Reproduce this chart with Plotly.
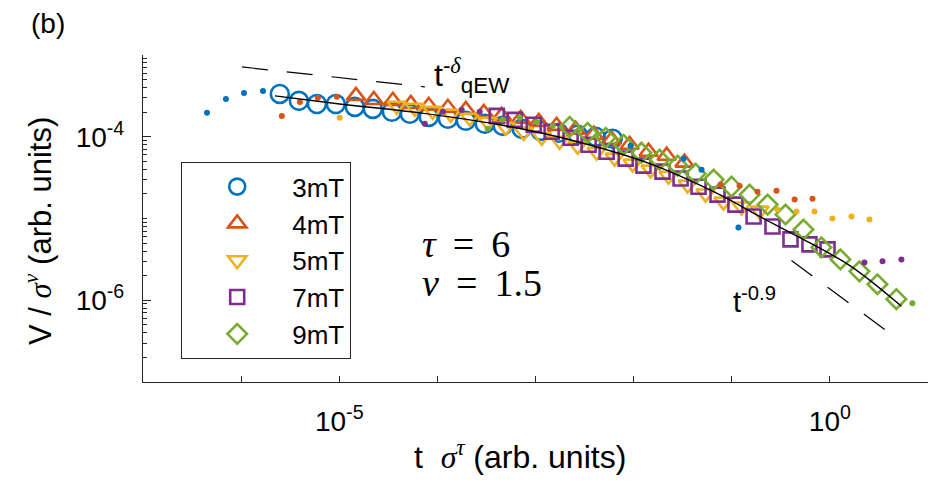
import plotly.graph_objects as go

# ---------------- data ----------------
series_names = ["3mT", "4mT", "5mT", "7mT", "9mT"]
series_colors = ["#0072BD", "#D95319", "#EDB120", "#7E2F8E", "#77AC30"]
series_symbols = ["circle-open", "triangle-up-open", "triangle-down-open", "square-open", "diamond-open"]

# binned data (open markers): t*sigma^tau, V/sigma^nu
x_3mT = [2.48e-6, 3.88e-6, 5.92e-6, 9.23e-6, 1.44e-5, 2.20e-5, 3.44e-5, 5.24e-5, 8.17e-5, 1.28e-4,
         1.95e-4, 3.04e-4, 4.63e-4, 7.23e-4, 1.13e-3, 1.72e-3, 2.69e-3, 4.10e-3, 6.11e-3]
y_3mT = [3.34e-4, 2.75e-4, 2.52e-4, 2.52e-4, 2.32e-4, 2.19e-4, 2.02e-4, 1.91e-4, 1.75e-4, 1.66e-4,
         1.57e-4, 1.44e-4, 1.36e-4, 1.25e-4, 1.18e-4, 1.12e-4, 1.06e-4, 1.00e-4, 9.46e-5]

x_4mT = [1.48e-5, 2.25e-5, 3.52e-5, 5.36e-5, 8.17e-5, 1.28e-4, 1.95e-4, 2.97e-4, 4.53e-4, 7.06e-4,
         1.08e-3, 1.64e-3, 2.56e-3, 3.92e-3, 5.97e-3, 9.10e-3, 1.42e-2, 2.17e-2, 3.30e-2]
y_4mT = [3.16e-4, 2.82e-4, 2.75e-4, 2.52e-4, 2.39e-4, 2.26e-4, 2.13e-4, 1.96e-4, 1.80e-4, 1.66e-4,
         1.52e-4, 1.36e-4, 1.22e-4, 1.06e-4, 9.18e-5, 7.98e-5, 6.56e-5, 5.86e-5, 4.82e-5]

x_5mT = [3.86e-5, 5.89e-5, 8.97e-5, 1.37e-4, 2.14e-4, 3.26e-4, 4.98e-4, 7.59e-4, 1.16e-3, 1.76e-3,
         2.69e-3, 4.20e-3, 6.41e-3, 9.77e-3, 1.49e-2, 2.27e-2, 3.55e-2, 5.41e-2, 8.24e-2, 0.126, 0.192]
y_5mT = [2.39e-4, 2.26e-4, 2.07e-4, 1.91e-4, 1.71e-4, 1.52e-4, 1.32e-4, 1.15e-4, 1.00e-4, 8.93e-5,
         7.76e-5, 6.56e-5, 5.55e-5, 4.69e-5, 3.96e-5, 3.34e-5, 2.60e-5, 2.02e-5, 1.61e-5, 1.40e-5, 1.25e-5]

x_7mT = [4.03e-4, 6.14e-4, 9.59e-4, 1.46e-3, 2.28e-3, 3.48e-3, 5.31e-3, 8.30e-3, 1.26e-2, 1.97e-2,
         3.01e-2, 4.59e-2, 7.16e-2, 0.109, 0.167, 0.260, 0.397, 0.619, 0.946]
y_7mT = [1.80e-4, 1.61e-4, 1.40e-4, 1.15e-4, 9.73e-5, 7.98e-5, 6.56e-5, 5.40e-5, 4.43e-5, 3.74e-5,
         3.08e-5, 2.45e-5, 1.96e-5, 1.48e-5, 1.06e-5, 7.98e-6, 5.55e-6, 4.82e-6, 4.19e-6]

x_9mT = [2.23e-3, 3.40e-3, 5.19e-3, 7.91e-3, 1.20e-2, 1.84e-2, 2.81e-2, 4.28e-2, 6.53e-2, 9.95e-2,
         0.152, 0.232, 0.353, 0.538, 0.820, 1.28, 2.00, 3.05, 4.76]
y_9mT = [1.32e-4, 1.12e-4, 9.73e-5, 7.98e-5, 6.38e-5, 5.25e-5, 4.43e-5, 3.54e-5, 2.99e-5, 2.45e-5,
         1.96e-5, 1.48e-5, 1.12e-5, 7.34e-6, 4.43e-6, 3.16e-6, 2.26e-6, 1.57e-6, 1.03e-6]

# raw data points (small dots)
xd_3mT = [4.49e-7, 7.00e-7, 1.07e-6, 1.67e-6, 9.31e-3, 3.23e-2, 4.92e-2, 0.117]
yd_3mT = [1.96e-4, 2.90e-4, 3.44e-4, 3.64e-4, 7.76e-5, 5.40e-5, 3.96e-5, 7.76e-6]

xd_4mT = [2.60e-6, 3.97e-6, 6.05e-6, 9.46e-6, 7.69e-2, 0.120, 0.183, 0.286, 0.437, 0.665]
yd_4mT = [1.80e-4, 2.67e-4, 2.99e-4, 3.08e-4, 2.60e-5, 2.52e-5, 2.13e-5, 2.19e-5, 1.71e-5, 1.75e-5]

xd_5mT = [1.01e-5, 0.292, 0.457, 0.697, 1.06, 1.66, 2.53]
yd_5mT = [1.71e-4, 1.29e-5, 1.22e-5, 1.22e-5, 1.00e-5, 1.06e-5, 9.73e-6]

xd_7mT = [7.45e-5, 1.14e-4, 1.77e-4, 2.70e-4, 2.25, 3.44, 5.36]
yd_7mT = [1.44e-4, 2.02e-4, 2.13e-4, 2.02e-4, 2.90e-6, 2.99e-6, 3.16e-6]

xd_9mT = [3.26e-4, 4.63e-4, 6.90e-4, 1.03e-3, 1.50e-3, 6.93]
yd_9mT = [1.25e-4, 1.61e-4, 1.71e-4, 1.52e-4, 1.36e-4, 9.18e-7]

# scaling-function fit (black curve)
x_fit = [2.21e-6, 1.01e-5, 6.62e-5, 4.32e-4, 2.23e-3, 1.46e-2, 7.52e-2, 0.192, 0.490, 1.585, 5.36]
y_fit = [3.16e-4, 2.52e-4, 1.96e-4, 1.40e-4, 9.18e-5, 4.69e-5, 1.96e-5, 1.06e-5, 5.86e-6, 2.67e-6, 8.45e-7]

# guide lines (dashed)
x_guide_qew = [1.02e-6, 7.45e-5]
y_guide_qew = [7.14e-4, 4.07e-4]
x_guide_09 = [0.406, 3.95]
y_guide_09 = [3.07e-6, 4.07e-7]

binned_x = [x_3mT, x_4mT, x_5mT, x_7mT, x_9mT]
binned_y = [y_3mT, y_4mT, y_5mT, y_7mT, y_9mT]
raw_x = [xd_3mT, xd_4mT, xd_5mT, xd_7mT, xd_9mT]
raw_y = [yd_3mT, yd_4mT, yd_5mT, yd_7mT, yd_9mT]

# ---------------- figure ----------------
W, H = 935, 484
L, R, T, B = 143, 7, 55, 102
PW, PH = W - L - R, H - T - B

def px(x):
    return (x - L) / PW

def py(y):
    return (H - B - y) / PH

marker_sizes = [18, 16, 16, 14, 15]

fig = go.Figure()
for name, col, sym, xs, ys, ms in zip(series_names, series_colors, series_symbols,
                                      binned_x, binned_y, marker_sizes):
    fig.add_trace(go.Scatter(
        x=xs, y=ys, mode="markers", name=name,
        marker=dict(symbol=sym, size=ms, color=col, line=dict(width=2.6, color=col)),
    ))

for name, col, xs, ys in zip(series_names, series_colors, raw_x, raw_y):
    fig.add_trace(go.Scatter(
        x=xs, y=ys, mode="markers", name=name + " raw", showlegend=False,
        marker=dict(symbol="circle", size=6, color=col),
    ))

fig.add_trace(go.Scatter(x=x_fit, y=y_fit, mode="lines", showlegend=False,
                         line=dict(color="black", width=1.4, shape="spline")))
for gx, gy in [(x_guide_qew, y_guide_qew), (x_guide_09, y_guide_09)]:
    fig.add_trace(go.Scatter(x=gx, y=gy, mode="lines", showlegend=False,
                             line=dict(color="black", width=1.2, dash="26px,19px")))

axis_col = "#262626"
serif = "Liberation Serif, Times New Roman, serif"
sans = "Liberation Sans, Arial, sans-serif"
tick_font = dict(family=sans, size=28, color="#000000")

# labelled decade ticks
x_major = [1e-5, 1e0]
x_major_text = ["10<sup>-5</sup>", "10<sup>0</sup>"]
x_other_decades = [1e-7, 1e-6, 1e-4, 1e-3, 1e-2, 1e-1, 1e1]
y_major = [1e-6, 1e-4]
y_major_text = ["10<sup>-6</sup>", "10<sup>-4</sup>"]
y_minor = [m * 10.0 ** e for e in range(-7, -3) for m in range(1, 10)
           if not (m == 1 and e in (-6, -4))] + [1e-3]

fig.update_layout(
    width=W, height=H, autosize=False,
    margin=dict(l=L, r=R, t=T, b=B),
    paper_bgcolor="white", plot_bgcolor="white",
    font=dict(family=sans, color="black"),
    xaxis=dict(
        type="log", range=[-7, 1], tickmode="array", tickvals=x_major, ticktext=x_major_text,
        ticks="inside", ticklen=6, tickwidth=1.2, tickcolor=axis_col,
        minor=dict(tickmode="array", tickvals=x_other_decades, ticks="inside", ticklen=6,
                   tickwidth=1.2, tickcolor=axis_col, showgrid=False),
        showline=True, linecolor=axis_col, linewidth=1.3, mirror=False,
        showgrid=False, zeroline=False, tickfont=tick_font, ticklabelstandoff=14,
    ),
    yaxis=dict(
        type="log", range=[-7, -3], tickmode="array", tickvals=y_major, ticktext=y_major_text,
        ticks="inside", ticklen=8, tickwidth=1.2, tickcolor=axis_col,
        minor=dict(tickmode="array", tickvals=y_minor, ticks="inside", ticklen=4,
                   tickwidth=1, tickcolor=axis_col, showgrid=False),
        showline=True, linecolor=axis_col, linewidth=1.3, mirror=False,
        showgrid=False, zeroline=False, tickfont=tick_font, ticklabelstandoff=12,
    ),
    legend=dict(
        x=px(181), y=py(162), xanchor="left", yanchor="top",
        bgcolor="white", bordercolor=axis_col, borderwidth=1.2,
        font=dict(family=sans, size=26, color="black"),
        itemwidth=100, tracegroupgap=0,
    ),
    showlegend=True,
)

sig = "<span style='font-family:Liberation Serif'><i>σ</i></span>"
annotations = [
    dict(text="t\u00a0\u00a0" + sig + "<sup><span style='font-family:Liberation Serif'><i>τ</i></span></sup>"
              "\u00a0(arb. units)",
         x=px(520), y=py(455), xanchor="center", yanchor="middle",
         font=dict(family=sans, size=32)),
    dict(text="V / " + sig + "<sup><span style='font-family:Liberation Serif'><i>ν</i></span></sup>"
              " (arb. units)",
         x=px(39), y=py(231), xanchor="center", yanchor="middle", textangle=-90,
         font=dict(family=sans, size=31)),
    dict(text="(b)", x=px(29), y=py(24), xanchor="left", yanchor="middle",
         font=dict(family=sans, size=28)),
    dict(text="<i>τ</i>\u2009 =\u2009 6", x=px(420), y=py(244), xanchor="left", yanchor="middle",
         font=dict(family=serif, size=38)),
    dict(text="<i>ν</i>\u2009 =\u2009 1.5", x=px(420), y=py(283), xanchor="left", yanchor="middle",
         font=dict(family=serif, size=38)),
    dict(text="t<sup>-<span style='font-family:Liberation Serif'><i>δ</i></span></sup><sub>qEW</sub>",
         x=px(432), y=py(75), xanchor="left", yanchor="middle", font=dict(family=sans, size=32)),
    dict(text="t<sup>-0.9</sup>", x=px(731), y=py(300), xanchor="left", yanchor="middle",
         font=dict(family=sans, size=29)),
]
for a in annotations:
    a.update(xref="paper", yref="paper", showarrow=False)
fig.update_layout(annotations=annotations)

fig.write_html("out.html")
